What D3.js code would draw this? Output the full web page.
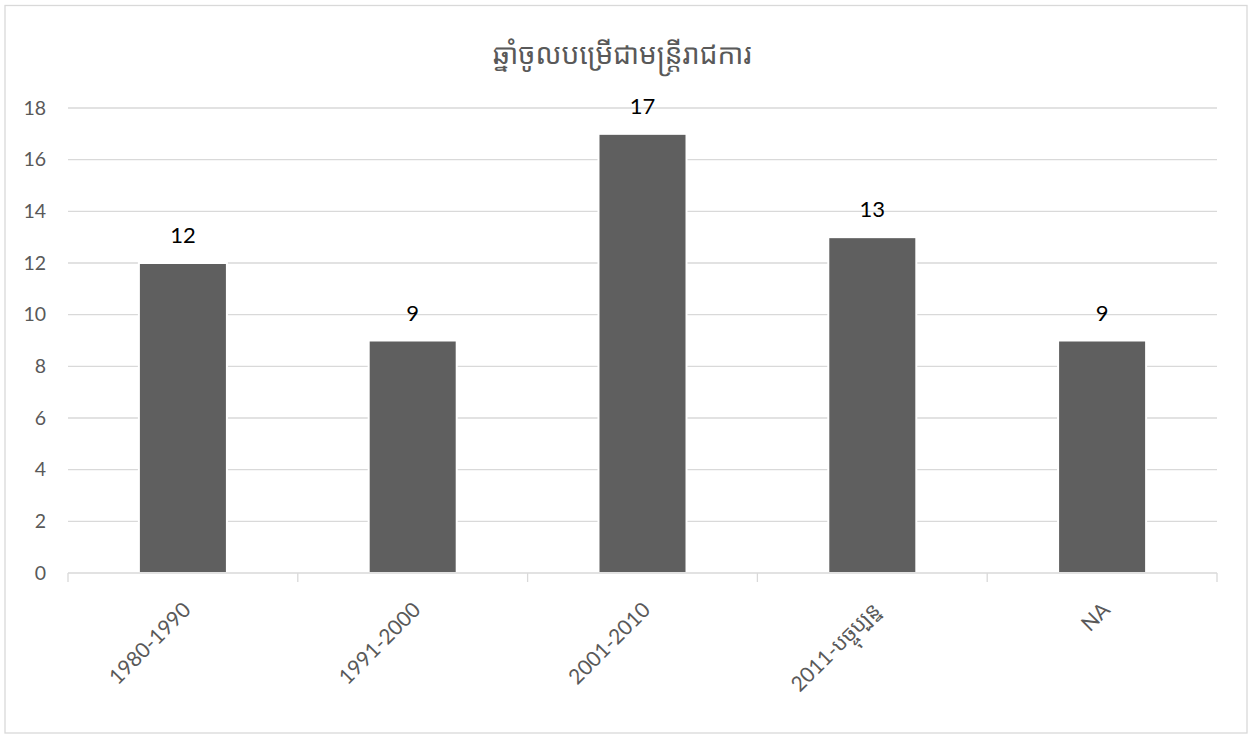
<!DOCTYPE html>
<html lang="km">
<head>
<meta charset="UTF-8">
<title>ឆ្នាំចូលបម្រើជាមន្ត្រីរាជការ</title>
<style>
  body { margin: 0; background: #fff; }
  svg { display: block; }
  .tick text { font-family: Lato, "Noto Sans Khmer", "Khmer OS", sans-serif; }
</style>
</head>
<body>
<div class="chart"></div>
<script src="https://d3js.org/d3.v7.min.js"></script>
<script>
const categories = ["1980-1990", "1991-2000", "2001-2010", "2011-បច្ចុប្បន្ន", "NA"];
const values = [12, 9, 17, 13, 9];
const yTicks = [0, 2, 4, 6, 8, 10, 12, 14, 16, 18];
const title = "ឆ្នាំចូលបម្រើជាមន្ត្រីរាជការ";

const width = 1249, height = 734;
const plot = { left: 68, right: 1217, top: 108, bottom: 573 };

const svg = d3.select(".chart").append("svg")
  .attr("width", width)
  .attr("height", height);

// chart border
svg.append("rect")
  .attr("x", 5).attr("y", 5.5)
  .attr("width", 1242).attr("height", 727.5)
  .attr("fill", "#fff")
  .attr("stroke", "#d9d9d9")
  .attr("stroke-width", 1.3);

const x = d3.scaleBand()
  .domain(categories)
  .range([plot.left, plot.right])
  .paddingInner(0.617)
  .paddingOuter(0.3085);

const y = d3.scaleLinear()
  .domain([0, 18])
  .range([plot.bottom, plot.top]);

// gridlines
svg.append("g")
  .selectAll("line")
  .data(yTicks.filter(d => d > 0))
  .join("line")
  .attr("x1", plot.left).attr("x2", plot.right)
  .attr("y1", d => y(d)).attr("y2", d => y(d))
  .attr("stroke", "#d9d9d9")
  .attr("stroke-width", 1.3);

// y axis labels
const yAxis = d3.axisLeft(y).tickValues(yTicks).tickSize(0).tickPadding(12);
svg.append("g")
  .attr("transform", `translate(${plot.left},0)`)
  .call(yAxis)
  .call(g => g.select(".domain").remove())
  .call(g => g.selectAll("text")
    .attr("fill", "#595959")
    .attr("font-size", "19.5px")
    .attr("text-anchor", "end")
    .attr("x", -22));

// bars
svg.append("g")
  .selectAll("rect")
  .data(values)
  .join("rect")
  .attr("x", (d, i) => x(categories[i]))
  .attr("y", d => y(d))
  .attr("width", x.bandwidth())
  .attr("height", d => y(0) - y(d))
  .attr("fill", "#5f5f5f")
  .attr("stroke", "#fff")
  .attr("stroke-width", 2);

// x axis
const xEdges = d3.scaleLinear().domain([0, categories.length]).range([plot.left, plot.right]);
const xAxisG = svg.append("g");
xAxisG.append("line")
  .attr("x1", plot.left).attr("x2", plot.right)
  .attr("y1", plot.bottom).attr("y2", plot.bottom)
  .attr("stroke", "#d9d9d9").attr("stroke-width", 1.3);
xAxisG.selectAll(".edge")
  .data(d3.range(categories.length + 1))
  .join("line")
  .attr("class", "edge")
  .attr("x1", d => xEdges(d)).attr("x2", d => xEdges(d))
  .attr("y1", plot.bottom).attr("y2", plot.bottom + 9)
  .attr("stroke", "#d9d9d9").attr("stroke-width", 1.3);

xAxisG.selectAll(".xlabel")
  .data(categories)
  .join("text")
  .attr("class", "xlabel")
  .attr("transform", d => `translate(${x(d) + x.bandwidth() / 2 + 4},${plot.bottom + 33}) rotate(-45)`)
  .attr("text-anchor", "end")
  .attr("dy", "0.35em")
  .attr("fill", "#595959")
  .attr("font-family", "Lato, 'Noto Sans Khmer', 'Khmer OS', sans-serif")
  .attr("font-size", "21px")
  .text(d => d);

// data labels
svg.append("g")
  .selectAll("text")
  .data(values)
  .join("text")
  .attr("x", (d, i) => x(categories[i]) + x.bandwidth() / 2)
  .attr("y", d => y(d) - 20)
  .attr("text-anchor", "middle")
  .attr("fill", "#000")
  .attr("font-family", "Lato, sans-serif")
  .attr("font-size", "22px")
  .text(d => d);

// title
svg.append("text")
  .attr("x", 622)
  .attr("y", 64)
  .attr("text-anchor", "middle")
  .attr("fill", "#595959")
  .attr("font-family", "'Noto Sans Khmer', 'Khmer OS', 'Noto Serif Khmer', sans-serif")
  .attr("font-size", "28px")
  .text(title);
</script>
</body>
</html>
